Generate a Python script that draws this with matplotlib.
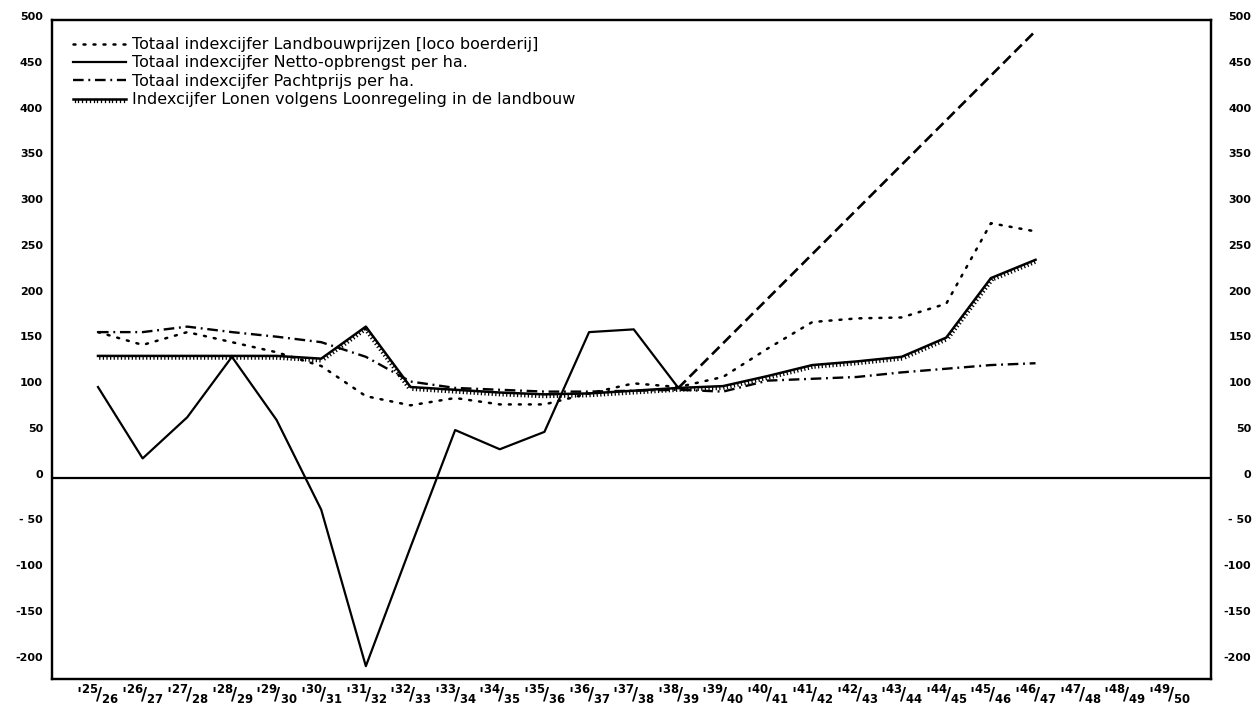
import numpy as np
import matplotlib
matplotlib.use("Agg")
import matplotlib.pyplot as plt
import matplotlib.patheffects as pe
import matplotlib.transforms as mtransforms

# ---------------- data ----------------
periods = ["'25/26", "'26/27", "'27/28", "'28/29", "'29/30", "'30/31", "'31/32",
           "'32/33", "'33/34", "'34/35", "'35/36", "'36/37", "'37/38", "'38/39",
           "'39/40", "'40/41", "'41/42", "'42/43", "'43/44", "'44/45", "'45/46",
           "'46/47", "'47/48", "'48/49", "'49/50"]

# Totaal indexcijfer Landbouwprijzen (loco boerderij) '25/26 .. '46/47
landbouwprijzen = [159, 145, 159, 148, 137, 122, 89, 79, 87, 80, 80, 92, 103, 99,
                   110, 141, 170, 174, 175, 190, 278, 269]
# Totaal indexcijfer Netto-opbrengst per ha. '25/26 .. '38/39
netto = [99, 21, 66, 132, 63, -35, -206, -76, 52, 31, 50, 159, 162, 98]
# dashed continuation of Netto-opbrengst: '38/39 -> '46/47
netto_ext_periods = ["'38/39", "'46/47"]
netto_ext = [98, 488]
# Totaal indexcijfer Pachtprijs per ha. '25/26 .. '46/47
pachtprijs = [159, 159, 165, 159, 154, 148, 132, 105, 98, 96, 94, 94, 95, 96,
              94, 106, 108, 110, 115, 119, 123, 125]
# Indexcijfer Lonen volgens Loonregeling in de landbouw '25/26 .. '46/47
lonen = [133, 133, 133, 133, 133, 130, 165, 99, 96, 93, 91, 92, 95, 98,
         100, 111, 123, 127, 132, 153, 218, 238]

labels = ["Totaal indexcijfer Landbouwprijzen [loco boerderij]",
          "Totaal indexcijfer Netto-opbrengst per ha.",
          "Totaal indexcijfer Pachtprijs per ha.",
          "Indexcijfer Lonen volgens Loonregeling in de landbouw"]

ytick_values = [-200, -150, -100, -50, 0, 50, 100, 150, 200, 250, 300, 350, 400, 450, 500]
ytick_labels = ["-200", "-150", "-100", "- 50", "0", "50", "100", "150", "200",
                "250", "300", "350", "400", "450", "500"]

# ---------------- style ----------------
plt.rcParams["font.family"] = ["DejaVu Sans"]
plt.rcParams["mathtext.default"] = "regular"

fig = plt.figure(figsize=(12.54, 7.08), dpi=100)
ax = fig.add_axes([52 / 1254, 1 - 679 / 708, 1159 / 1254, 659 / 708])

x_all = np.arange(len(periods))
pos = {p: i for i, p in enumerate(periods)}

def xs(n):
    return x_all[:n]

ax.plot(xs(len(landbouwprijzen)), landbouwprijzen, color="black", lw=1.8,
        linestyle=(0, (0.8, 3.2)), dash_capstyle="round", label=labels[0])
ax.plot(xs(len(netto)), netto, color="black", lw=1.6, label=labels[1])
ax.plot([pos[p] for p in netto_ext_periods], netto_ext, color="black", lw=1.9,
        linestyle=(0, (4, 2)))
ax.plot(xs(len(pachtprijs)), pachtprijs, color="black", lw=1.7,
        linestyle=(0, (4.5, 2, 0.8, 2)), label=labels[2])
ax.plot(xs(len(lonen)), lonen, color="black", lw=1.8, label=labels[3],
        path_effects=[pe.withTickedStroke(spacing=2.6, angle=-90, length=0.9,
                                          linewidth=0.9)])

ax.axhline(0, color="black", lw=1.6)

ax.set_xlim(-1.03, 24.93)
ax.set_ylim(-220, 500)

ax.set_xticks(x_all)
def frac(lbl):
    a, b = lbl.lstrip("'").split("/")
    return "'" + r"${}^{%s}\!/_{%s}$" % (a, b)
ax.set_xticklabels([frac(p) for p in periods], fontsize=12, fontweight="bold")
ax.tick_params(axis="x", length=0, pad=3)

up = mtransforms.ScaledTranslation(0, 4 / 100, fig.dpi_scale_trans)

ax.set_yticks(ytick_values)
ax.set_yticklabels(ytick_labels, fontsize=8, fontweight="bold")
ax.tick_params(axis="y", length=0, pad=6.5)
for lab in ax.get_yticklabels():
    lab.set_transform(lab.get_transform() + up)

ax2 = ax.twinx()
ax2.set_ylim(ax.get_ylim())
ax2.set_yticks(ytick_values)
ax2.set_yticklabels(ytick_labels, fontsize=8, fontweight="bold", ha="right")
ax2.tick_params(axis="y", length=0, pad=29)
for lab in ax2.get_yticklabels():
    lab.set_transform(lab.get_transform() + up)

for a in (ax, ax2):
    for s in a.spines.values():
        s.set_linewidth(1.6)

leg = ax.legend(loc="upper left", bbox_to_anchor=(0.018, 0.974), frameon=False,
                fontsize=11.5, handlelength=3.3, handletextpad=0.4,
                labelspacing=0.21, borderpad=0, borderaxespad=0)

fig.savefig("out.png", dpi=100)
